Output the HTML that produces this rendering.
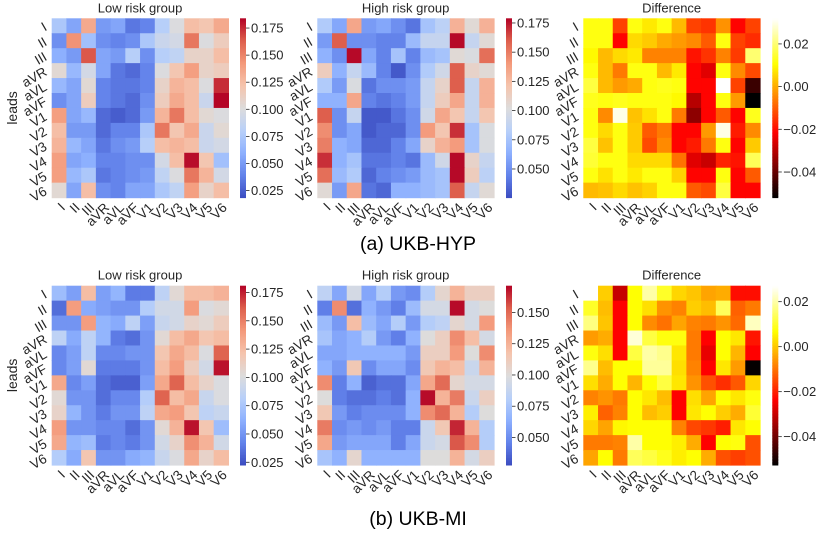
<!DOCTYPE html>
<html><head><meta charset="utf-8"><style>
html,body{margin:0;padding:0;background:#fff;}
svg{display:block;font-family:"Liberation Sans",sans-serif;}
</style></head><body>
<svg id="fig" width="830" height="539" viewBox="0 0 830 539" xmlns="http://www.w3.org/2000/svg"></svg>
<script>
const leads = ["I","II","III","aVR","aVL","aVF","V1","V2","V3","V4","V5","V6"];
const hypLow = [
[0.075,0.055,0.135,0.05,0.055,0.035,0.04,0.08,0.1,0.125,0.12,0.135],
[0.045,0.145,0.07,0.045,0.04,0.045,0.075,0.09,0.095,0.155,0.1,0.115],
[0.06,0.05,0.165,0.055,0.05,0.08,0.045,0.08,0.085,0.11,0.11,0.125],
[0.105,0.065,0.095,0.055,0.035,0.03,0.04,0.1,0.12,0.14,0.11,0.115],
[0.065,0.055,0.105,0.04,0.035,0.035,0.04,0.11,0.13,0.125,0.1,0.175],
[0.045,0.055,0.115,0.04,0.035,0.03,0.045,0.115,0.135,0.125,0.09,0.184],
[0.14,0.055,0.065,0.03,0.025,0.03,0.05,0.13,0.155,0.125,0.105,0.1],
[0.125,0.05,0.05,0.03,0.04,0.04,0.075,0.155,0.12,0.135,0.09,0.105],
[0.13,0.065,0.055,0.035,0.045,0.05,0.08,0.125,0.13,0.125,0.09,0.095],
[0.14,0.055,0.06,0.04,0.04,0.045,0.045,0.095,0.125,0.182,0.12,0.07],
[0.14,0.065,0.075,0.035,0.04,0.045,0.05,0.085,0.1,0.155,0.13,0.095],
[0.105,0.055,0.125,0.045,0.04,0.055,0.055,0.075,0.085,0.14,0.11,0.125]];
const hypHigh = [
[0.08,0.06,0.135,0.055,0.06,0.05,0.04,0.075,0.085,0.13,0.105,0.13],
[0.055,0.16,0.05,0.05,0.045,0.045,0.07,0.09,0.09,0.178,0.09,0.105],
[0.065,0.05,0.178,0.06,0.045,0.075,0.045,0.07,0.075,0.105,0.1,0.155],
[0.115,0.065,0.09,0.07,0.045,0.03,0.05,0.08,0.095,0.16,0.11,0.105],
[0.08,0.055,0.1,0.04,0.05,0.05,0.055,0.09,0.11,0.16,0.09,0.13],
[0.065,0.065,0.135,0.045,0.04,0.045,0.055,0.09,0.115,0.135,0.09,0.13],
[0.16,0.05,0.09,0.03,0.03,0.04,0.05,0.095,0.135,0.12,0.09,0.12],
[0.145,0.05,0.06,0.03,0.035,0.035,0.05,0.14,0.12,0.17,0.075,0.1],
[0.15,0.065,0.06,0.035,0.035,0.045,0.06,0.11,0.13,0.14,0.075,0.1],
[0.17,0.065,0.075,0.04,0.04,0.045,0.04,0.07,0.095,0.178,0.11,0.09],
[0.155,0.07,0.08,0.035,0.045,0.05,0.055,0.07,0.075,0.178,0.115,0.085],
[0.105,0.055,0.135,0.04,0.035,0.065,0.065,0.07,0.075,0.16,0.09,0.105]];
const hypDiff = [
[0.012,0.012,-0.013,0.012,0.008,0.012,0.002,-0.013,-0.015,-0.003,-0.021,-0.013],
[0.012,0.012,-0.021,0.006,0.004,0.0,-0.002,-0.004,-0.01,0.012,-0.013,-0.016],
[0.01,0.002,0.006,0.008,-0.005,-0.005,-0.005,-0.019,-0.015,-0.005,-0.014,0.02],
[0.012,0.002,-0.006,0.012,0.012,0.002,0.008,-0.021,-0.025,0.012,-0.004,-0.012],
[0.016,0.002,-0.002,0.0,0.012,0.013,0.012,-0.021,-0.021,0.032,-0.013,-0.045],
[0.013,0.012,0.013,0.012,0.012,0.012,0.01,-0.03,-0.021,0.012,-0.002,-0.052],
[0.012,-0.004,0.03,0.003,0.007,0.012,-0.006,-0.035,-0.021,-0.01,-0.021,0.013],
[0.012,0.006,0.012,0.004,-0.01,-0.006,-0.021,-0.021,-0.002,0.03,-0.018,-0.004],
[0.016,0.003,0.012,0.004,-0.012,-0.004,-0.021,-0.018,-0.006,0.012,-0.021,0.004],
[0.015,0.012,0.012,0.006,0.006,0.006,-0.007,-0.025,-0.028,-0.017,-0.019,0.018],
[0.012,0.007,0.012,0.008,0.012,0.012,0.005,-0.021,-0.021,0.012,-0.021,-0.01],
[0.002,0.003,0.006,0.003,0.005,0.012,0.012,-0.01,-0.012,0.016,-0.021,-0.021]];
const miLow = [
[0.07,0.055,0.125,0.055,0.065,0.04,0.04,0.085,0.105,0.125,0.125,0.13],
[0.035,0.14,0.06,0.055,0.05,0.05,0.08,0.095,0.095,0.14,0.1,0.105],
[0.05,0.05,0.14,0.065,0.06,0.085,0.055,0.09,0.095,0.11,0.105,0.115],
[0.085,0.06,0.085,0.065,0.04,0.035,0.05,0.105,0.125,0.135,0.12,0.125],
[0.045,0.055,0.085,0.045,0.045,0.05,0.05,0.12,0.135,0.125,0.1,0.16],
[0.045,0.055,0.105,0.04,0.04,0.04,0.05,0.125,0.14,0.115,0.095,0.178],
[0.135,0.045,0.055,0.035,0.03,0.03,0.055,0.135,0.16,0.125,0.11,0.1],
[0.105,0.05,0.05,0.035,0.045,0.045,0.08,0.16,0.125,0.135,0.09,0.1],
[0.11,0.065,0.05,0.04,0.05,0.05,0.085,0.135,0.14,0.12,0.085,0.09],
[0.14,0.05,0.05,0.045,0.045,0.035,0.05,0.105,0.13,0.178,0.12,0.07],
[0.135,0.065,0.07,0.04,0.045,0.04,0.05,0.095,0.11,0.145,0.13,0.095],
[0.08,0.06,0.12,0.05,0.05,0.06,0.065,0.09,0.1,0.135,0.11,0.125]];
const miHigh = [
[0.085,0.06,0.095,0.06,0.08,0.055,0.05,0.08,0.105,0.125,0.11,0.11],
[0.045,0.14,0.04,0.065,0.055,0.045,0.07,0.095,0.095,0.17,0.095,0.1],
[0.07,0.055,0.12,0.07,0.06,0.08,0.055,0.08,0.085,0.105,0.095,0.135],
[0.075,0.06,0.065,0.08,0.055,0.045,0.065,0.1,0.11,0.14,0.12,0.095],
[0.06,0.06,0.065,0.065,0.065,0.065,0.055,0.11,0.11,0.135,0.1,0.14],
[0.065,0.055,0.115,0.05,0.06,0.06,0.05,0.115,0.125,0.12,0.09,0.125],
[0.14,0.045,0.065,0.035,0.04,0.04,0.06,0.13,0.15,0.105,0.095,0.095],
[0.1,0.045,0.04,0.04,0.045,0.04,0.065,0.17,0.125,0.145,0.09,0.11],
[0.115,0.055,0.045,0.05,0.05,0.05,0.065,0.14,0.15,0.125,0.08,0.1],
[0.145,0.05,0.055,0.05,0.055,0.045,0.045,0.09,0.115,0.165,0.125,0.08],
[0.13,0.055,0.06,0.06,0.06,0.045,0.06,0.09,0.095,0.155,0.14,0.08],
[0.075,0.065,0.105,0.065,0.065,0.065,0.065,0.1,0.1,0.125,0.095,0.11]];
const miDiff = [
[0.027,0.001,-0.03,0.007,0.02,0.01,0.002,0.0,-0.004,-0.003,-0.022,-0.022],
[0.01,-0.001,-0.0235,0.007,0.003,-0.006,-0.008,0.001,-0.001,0.014,-0.012,-0.009],
[0.017,0.0,-0.0235,0.007,-0.007,-0.01,-0.004,-0.008,-0.009,-0.006,-0.011,0.022],
[-0.005,-0.003,-0.0235,0.024,0.012,0.008,0.008,-0.009,-0.0235,0.007,0.004,-0.021],
[0.008,0.003,-0.0235,0.012,0.02,0.018,0.004,-0.009,-0.026,0.007,-0.002,-0.0235],
[0.018,-0.001,0.007,0.007,0.019,0.019,0.003,-0.008,-0.0235,0.004,-0.005,-0.052],
[0.003,-0.003,0.007,-0.002,0.007,0.012,0.004,-0.006,-0.014,-0.018,-0.013,0.002],
[-0.008,-0.006,-0.009,0.007,0.004,-0.001,-0.0235,0.003,-0.004,0.007,0.004,0.008],
[0.005,-0.012,-0.008,0.007,-0.001,0.001,-0.0235,0.004,0.007,0.001,-0.003,0.011],
[0.002,-0.004,0.006,0.007,0.007,0.007,-0.008,-0.015,-0.017,-0.02,0.004,0.007],
[-0.009,-0.009,-0.008,0.02,0.007,0.007,0.005,-0.003,-0.0235,0.007,0.008,-0.014],
[-0.004,0.007,-0.009,0.014,0.012,0.009,0.005,0.007,-0.003,-0.014,-0.016,-0.014]];
const ticksA = [0.025,0.05,0.075,0.1,0.125,0.15,0.175];
const ticksB = [0.05,0.075,0.1,0.125,0.15,0.175];
const ticksC = [0.05,0.075,0.1,0.125,0.15];
const ticksD = [-0.04,-0.02,0.0,0.02];

const NS="http://www.w3.org/2000/svg";
const svg=document.getElementById('fig');
function mk(tag,attrs,parent){const e=document.createElementNS(NS,tag);for(const k in attrs)e.setAttribute(k,attrs[k]);(parent||svg).appendChild(e);return e;}
const cwStops=[[59,76,192],[98,130,234],[141,176,254],[184,208,249],[221,220,220],[245,196,173],[244,154,123],[222,96,77],[180,4,38]];
function coolwarm(t){t=Math.max(0,Math.min(1,t));const p=t*8;const i=Math.min(7,Math.floor(p));const f=p-i;const a=cwStops[i],b=cwStops[i+1];return `rgb(${Math.round(a[0]+(b[0]-a[0])*f)},${Math.round(a[1]+(b[1]-a[1])*f)},${Math.round(a[2]+(b[2]-a[2])*f)})`;}
function hot(t){t=Math.max(0,Math.min(1,t));const c=v=>Math.round(255*Math.max(0,Math.min(1,v)));return `rgb(${c(t/0.365)},${c((t-0.365)/0.381)},${c((t-0.746)/0.254)})`;}

const panels=[
 {name:'hyp-low',title:'Low risk group',x0:51.7,y0:18.3,data:hypLow,vmin:0.0185,vmax:0.184,cmap:coolwarm,cbx:240,ticks:ticksA,ylab:true,diff:false},
 {name:'hyp-high',title:'High risk group',x0:317.3,y0:18.3,data:hypHigh,vmin:0.0255,vmax:0.179,cmap:coolwarm,cbx:506,ticks:ticksB,ylab:false,diff:false},
 {name:'hyp-diff',title:'Difference',x0:583.3,y0:18.3,data:hypDiff,vmin:-0.052,vmax:0.032,cmap:hot,cbx:772.3,ticks:ticksD,ylab:false,diff:true},
 {name:'mi-low',title:'Low risk group',x0:51.7,y0:285.7,data:miLow,vmin:0.0226,vmax:0.181,cmap:coolwarm,cbx:240,ticks:ticksA,ylab:true,diff:false},
 {name:'mi-high',title:'High risk group',x0:317.3,y0:285.7,data:miHigh,vmin:0.028,vmax:0.1714,cmap:coolwarm,cbx:506,ticks:ticksC,ylab:false,diff:false},
 {name:'mi-diff',title:'Difference',x0:583.3,y0:285.7,data:miDiff,vmin:-0.0526,vmax:0.0271,cmap:hot,cbx:772.3,ticks:ticksD,ylab:false,diff:true}];
const W=176.7,H=179.3,cw=W/12,ch=H/12;
function tickLabel(v,diff){if(diff){if(v===0)return "0.00";return (v<0?"\u2212":"")+Math.abs(v).toFixed(2);}return v.toFixed(3);}
panels.forEach(p=>{
 const g=mk('g',{});
 
 
 const tt=mk('text',{x:p.x0+W/2,y:p.y0-6,'text-anchor':'middle','font-size':13,fill:'#262626'},g);tt.textContent=p.title;
 
 
 const xs=c=>p.x0+c*cw, ys=r=>p.y0+r*ch;
 p.data.forEach((row,r)=>row.forEach((v,c)=>{
  const rc=mk('rect',{x:xs(c),y:ys(r),width:cw+0.6,height:ch+0.6,fill:p.cmap((v-p.vmin)/(p.vmax-p.vmin))},g);
  
  
 }));
 leads.forEach((l,i)=>{
  const t=mk('text',{x:p.x0-6,y:ys(i)+ch/2+4.5,'text-anchor':'end','font-size':13.5,fill:'#262626'},g);
  t.setAttribute('transform',`rotate(-30 ${p.x0-6} ${ys(i)+ch/2})`);
  t.textContent=l;
  
  
  const cx=xs(i)+cw/2+4, cy=p.y0+H+8;
  const u=mk('text',{x:cx,y:cy+4,'text-anchor':'end','font-size':13.5,fill:'#262626',transform:`rotate(-45 ${cx} ${cy})`},g);
  u.textContent=l;
  
  
 });
 const cb=mk('g',{},g);
 
 
 const N=120;
 for(let k=0;k<N;k++){mk('rect',{x:p.cbx,y:p.y0+H-(k+1)*H/N,width:6,height:H/N+0.5,fill:p.cmap((k+0.5)/N)},cb);}
 const cy=v=>p.y0+H-(v-p.vmin)/(p.vmax-p.vmin)*H;
 p.ticks.forEach(v=>{
  mk('line',{x1:p.cbx+6,x2:p.cbx+9.5,y1:cy(v),y2:cy(v),stroke:'#262626','stroke-width':0.8},cb);
  const t=mk('text',{x:p.cbx+11,y:cy(v)+4.5,'font-size':13,fill:'#262626'},cb);
  t.textContent=tickLabel(v,p.diff);
  
  
 });
 if(p.ylab){const y=mk('text',{x:17,y:p.y0+H/2,'text-anchor':'middle','font-size':14,fill:'#262626',transform:`rotate(-90 17 ${p.y0+H/2})`},g);y.textContent='leads';
  
  }
});
const c1=mk('text',{x:418,y:250,'text-anchor':'middle','font-size':19.5,fill:'#000'});c1.textContent='(a) UKB-HYP';


const c2=mk('text',{x:418,y:525,'text-anchor':'middle','font-size':19.5,fill:'#000'});c2.textContent='(b) UKB-MI';


</script>
</body></html>
